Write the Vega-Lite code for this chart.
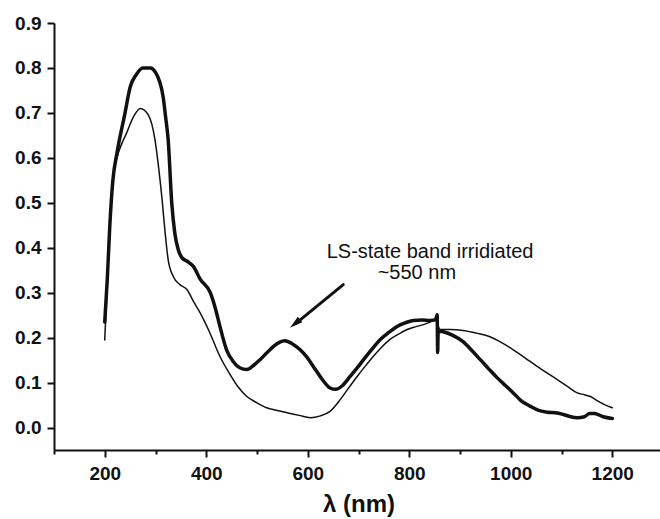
{
  "$schema": "https://vega.github.io/schema/vega-lite/v6.json",
  "width": 609,
  "height": 427,
  "autosize": {"type": "none"},
  "padding": {"left": 54, "top": 23, "right": 0, "bottom": 69},
  "background": "white",
  "config": {
    "view": {"stroke": null},
    "axis": {
      "labelFont": "Liberation Sans",
      "labelFontWeight": "bold",
      "labelFontSize": 19,
      "labelColor": "#111",
      "domainColor": "#111",
      "domainWidth": 2,
      "tickColor": "#111",
      "tickWidth": 2,
      "grid": false,
      "titleFont": "Liberation Sans",
      "titleFontWeight": "bold",
      "titleColor": "#111"
    }
  },
  "datasets": {
    "spectra": [
      {"series": "LS", "nm": 200, "A": 0.235},
      {"series": "LS", "nm": 205, "A": 0.33},
      {"series": "LS", "nm": 210, "A": 0.45},
      {"series": "LS", "nm": 216, "A": 0.55},
      {"series": "LS", "nm": 224, "A": 0.61},
      {"series": "LS", "nm": 240, "A": 0.7},
      {"series": "LS", "nm": 250, "A": 0.757},
      {"series": "LS", "nm": 262, "A": 0.785},
      {"series": "LS", "nm": 275, "A": 0.8},
      {"series": "LS", "nm": 290, "A": 0.8},
      {"series": "LS", "nm": 300, "A": 0.79},
      {"series": "LS", "nm": 308, "A": 0.77},
      {"series": "LS", "nm": 315, "A": 0.736},
      {"series": "LS", "nm": 320, "A": 0.69},
      {"series": "LS", "nm": 325, "A": 0.64},
      {"series": "LS", "nm": 332, "A": 0.5},
      {"series": "LS", "nm": 338, "A": 0.433},
      {"series": "LS", "nm": 345, "A": 0.395},
      {"series": "LS", "nm": 352, "A": 0.378},
      {"series": "LS", "nm": 365, "A": 0.368},
      {"series": "LS", "nm": 375, "A": 0.358},
      {"series": "LS", "nm": 388, "A": 0.33},
      {"series": "LS", "nm": 408, "A": 0.3},
      {"series": "LS", "nm": 418, "A": 0.265},
      {"series": "LS", "nm": 427, "A": 0.225},
      {"series": "LS", "nm": 440, "A": 0.173},
      {"series": "LS", "nm": 453, "A": 0.147},
      {"series": "LS", "nm": 466, "A": 0.133},
      {"series": "LS", "nm": 480, "A": 0.129},
      {"series": "LS", "nm": 493, "A": 0.138},
      {"series": "LS", "nm": 506, "A": 0.151},
      {"series": "LS", "nm": 520, "A": 0.167},
      {"series": "LS", "nm": 532, "A": 0.18},
      {"series": "LS", "nm": 545, "A": 0.19},
      {"series": "LS", "nm": 555, "A": 0.193},
      {"series": "LS", "nm": 570, "A": 0.186},
      {"series": "LS", "nm": 585, "A": 0.173},
      {"series": "LS", "nm": 598, "A": 0.157},
      {"series": "LS", "nm": 611, "A": 0.136},
      {"series": "LS", "nm": 628, "A": 0.108},
      {"series": "LS", "nm": 644, "A": 0.088},
      {"series": "LS", "nm": 655, "A": 0.085},
      {"series": "LS", "nm": 668, "A": 0.093},
      {"series": "LS", "nm": 683, "A": 0.113},
      {"series": "LS", "nm": 697, "A": 0.132},
      {"series": "LS", "nm": 710, "A": 0.151},
      {"series": "LS", "nm": 727, "A": 0.175},
      {"series": "LS", "nm": 743, "A": 0.196},
      {"series": "LS", "nm": 760, "A": 0.212},
      {"series": "LS", "nm": 776, "A": 0.225},
      {"series": "LS", "nm": 792, "A": 0.233},
      {"series": "LS", "nm": 808, "A": 0.238},
      {"series": "LS", "nm": 825, "A": 0.239},
      {"series": "LS", "nm": 841, "A": 0.238},
      {"series": "LS", "nm": 852, "A": 0.24},
      {"series": "LS", "nm": 855, "A": 0.251},
      {"series": "LS", "nm": 856, "A": 0.167},
      {"series": "LS", "nm": 857, "A": 0.215},
      {"series": "LS", "nm": 867, "A": 0.213},
      {"series": "LS", "nm": 886, "A": 0.205},
      {"series": "LS", "nm": 906, "A": 0.191},
      {"series": "LS", "nm": 922, "A": 0.173},
      {"series": "LS", "nm": 940, "A": 0.151},
      {"series": "LS", "nm": 957, "A": 0.13},
      {"series": "LS", "nm": 973, "A": 0.111},
      {"series": "LS", "nm": 990, "A": 0.093},
      {"series": "LS", "nm": 1005, "A": 0.077},
      {"series": "LS", "nm": 1020, "A": 0.06},
      {"series": "LS", "nm": 1039, "A": 0.047},
      {"series": "LS", "nm": 1055, "A": 0.038},
      {"series": "LS", "nm": 1072, "A": 0.034},
      {"series": "LS", "nm": 1088, "A": 0.033},
      {"series": "LS", "nm": 1104, "A": 0.029},
      {"series": "LS", "nm": 1118, "A": 0.024},
      {"series": "LS", "nm": 1131, "A": 0.022},
      {"series": "LS", "nm": 1145, "A": 0.024},
      {"series": "LS", "nm": 1155, "A": 0.031},
      {"series": "LS", "nm": 1165, "A": 0.031},
      {"series": "LS", "nm": 1182, "A": 0.024},
      {"series": "LS", "nm": 1200, "A": 0.02},
      {"series": "irradiated", "nm": 200, "A": 0.195},
      {"series": "irradiated", "nm": 205, "A": 0.32},
      {"series": "irradiated", "nm": 210, "A": 0.45},
      {"series": "irradiated", "nm": 216, "A": 0.55},
      {"series": "irradiated", "nm": 224, "A": 0.6},
      {"series": "irradiated", "nm": 233, "A": 0.63},
      {"series": "irradiated", "nm": 243, "A": 0.655},
      {"series": "irradiated", "nm": 256, "A": 0.69},
      {"series": "irradiated", "nm": 270, "A": 0.71},
      {"series": "irradiated", "nm": 286, "A": 0.695},
      {"series": "irradiated", "nm": 299, "A": 0.64},
      {"series": "irradiated", "nm": 306, "A": 0.58},
      {"series": "irradiated", "nm": 313, "A": 0.507},
      {"series": "irradiated", "nm": 319, "A": 0.433},
      {"series": "irradiated", "nm": 325, "A": 0.373},
      {"series": "irradiated", "nm": 335, "A": 0.336},
      {"series": "irradiated", "nm": 348, "A": 0.318},
      {"series": "irradiated", "nm": 362, "A": 0.307},
      {"series": "irradiated", "nm": 375, "A": 0.28},
      {"series": "irradiated", "nm": 388, "A": 0.255},
      {"series": "irradiated", "nm": 407, "A": 0.211},
      {"series": "irradiated", "nm": 427, "A": 0.158},
      {"series": "irradiated", "nm": 447, "A": 0.118},
      {"series": "irradiated", "nm": 463, "A": 0.09},
      {"series": "irradiated", "nm": 480, "A": 0.069},
      {"series": "irradiated", "nm": 500, "A": 0.055},
      {"series": "irradiated", "nm": 519, "A": 0.044},
      {"series": "irradiated", "nm": 540, "A": 0.038},
      {"series": "irradiated", "nm": 559, "A": 0.033},
      {"series": "irradiated", "nm": 583, "A": 0.027},
      {"series": "irradiated", "nm": 605, "A": 0.022},
      {"series": "irradiated", "nm": 625, "A": 0.026},
      {"series": "irradiated", "nm": 644, "A": 0.036},
      {"series": "irradiated", "nm": 664, "A": 0.062},
      {"series": "irradiated", "nm": 680, "A": 0.087},
      {"series": "irradiated", "nm": 697, "A": 0.113},
      {"series": "irradiated", "nm": 713, "A": 0.136},
      {"series": "irradiated", "nm": 729, "A": 0.158},
      {"series": "irradiated", "nm": 745, "A": 0.178},
      {"series": "irradiated", "nm": 762, "A": 0.196},
      {"series": "irradiated", "nm": 779, "A": 0.208},
      {"series": "irradiated", "nm": 796, "A": 0.218},
      {"series": "irradiated", "nm": 812, "A": 0.224},
      {"series": "irradiated", "nm": 828, "A": 0.229},
      {"series": "irradiated", "nm": 840, "A": 0.234},
      {"series": "irradiated", "nm": 851, "A": 0.24},
      {"series": "irradiated", "nm": 861, "A": 0.218},
      {"series": "irradiated", "nm": 880, "A": 0.218},
      {"series": "irradiated", "nm": 906, "A": 0.216},
      {"series": "irradiated", "nm": 932, "A": 0.21},
      {"series": "irradiated", "nm": 959, "A": 0.202},
      {"series": "irradiated", "nm": 982, "A": 0.189},
      {"series": "irradiated", "nm": 1005, "A": 0.173},
      {"series": "irradiated", "nm": 1028, "A": 0.155},
      {"series": "irradiated", "nm": 1052, "A": 0.136},
      {"series": "irradiated", "nm": 1072, "A": 0.121},
      {"series": "irradiated", "nm": 1091, "A": 0.107},
      {"series": "irradiated", "nm": 1111, "A": 0.092},
      {"series": "irradiated", "nm": 1131, "A": 0.077},
      {"series": "irradiated", "nm": 1145, "A": 0.073},
      {"series": "irradiated", "nm": 1157, "A": 0.069},
      {"series": "irradiated", "nm": 1170, "A": 0.06},
      {"series": "irradiated", "nm": 1185, "A": 0.051},
      {"series": "irradiated", "nm": 1200, "A": 0.044}
    ],
    "notes": [
      {"nm": 841, "A": 0.391, "label": "LS-state band irridiated"},
      {"nm": 815, "A": 0.343, "label": "~550 nm"}
    ],
    "arrow": [
      {"nm": 670, "A": 0.318, "nm2": 578, "A2": 0.233}
    ],
    "arrowhead": [
      {"nm": 565, "A": 0.222}
    ]
  },
  "layer": [
    {
      "data": {"name": "spectra"},
      "mark": {"type": "line", "color": "#111", "interpolate": "monotone", "strokeJoin": "round", "strokeCap": "round", "clip": true},
      "encoding": {
        "x": {
          "field": "nm", "type": "quantitative",
          "scale": {"domain": [100, 1300], "nice": false, "zero": false},
          "axis": {
            "title": "λ (nm)",
            "titleFontSize": 24,
            "titlePadding": 9,
            "values": [100, 200, 300, 400, 500, 600, 700, 800, 900, 1000, 1100, 1200, 1300],
            "format": "d",
            "labelExpr": "(datum.value % 200 === 0 && datum.value >= 200 && datum.value <= 1200) ? datum.label : ''",
            "tickSize": {"condition": {"test": "datum.value % 200 === 0", "value": 7}, "value": 4},
            "labelPadding": 7,
            "labelFlush": false
          }
        },
        "y": {
          "field": "A", "type": "quantitative",
          "scale": {"domain": [-0.05, 0.9], "nice": false, "zero": false},
          "axis": {
            "title": null,
            "values": [0, 0.05, 0.1, 0.15, 0.2, 0.25, 0.3, 0.35, 0.4, 0.45, 0.5, 0.55, 0.6, 0.65, 0.7, 0.75, 0.8, 0.85, 0.9],
            "format": ".1f",
            "labelExpr": "(round(datum.value * 100) % 10 === 0) ? datum.label : ''",
            "tickSize": {"condition": {"test": "round(datum.value * 100) % 10 === 0", "value": 7}, "value": 4},
            "labelPadding": 6,
            "labelFlush": false
          }
        },
        "detail": {"field": "series"},
        "strokeWidth": {
          "field": "series", "type": "nominal",
          "scale": {"domain": ["LS", "irradiated"], "range": [3.5, 1.5]},
          "legend": null
        }
      }
    },
    {
      "data": {"name": "notes"},
      "mark": {"type": "text", "font": "Liberation Sans", "fontSize": 20, "color": "#111", "align": "center", "baseline": "middle"},
      "encoding": {
        "x": {"field": "nm", "type": "quantitative"},
        "y": {"field": "A", "type": "quantitative"},
        "text": {"field": "label"}
      }
    },
    {
      "data": {"name": "arrow"},
      "mark": {"type": "rule", "color": "#111", "strokeWidth": 3, "strokeCap": "round"},
      "encoding": {
        "x": {"field": "nm", "type": "quantitative"},
        "y": {"field": "A", "type": "quantitative"},
        "x2": {"field": "nm2"},
        "y2": {"field": "A2"}
      }
    },
    {
      "data": {"name": "arrowhead"},
      "mark": {"type": "point", "shape": "M0,0 L-0.55,2 L0.55,2 Z", "filled": true, "color": "#111", "opacity": 1, "size": 169, "angle": 231},
      "encoding": {
        "x": {"field": "nm", "type": "quantitative"},
        "y": {"field": "A", "type": "quantitative"}
      }
    }
  ]
}
